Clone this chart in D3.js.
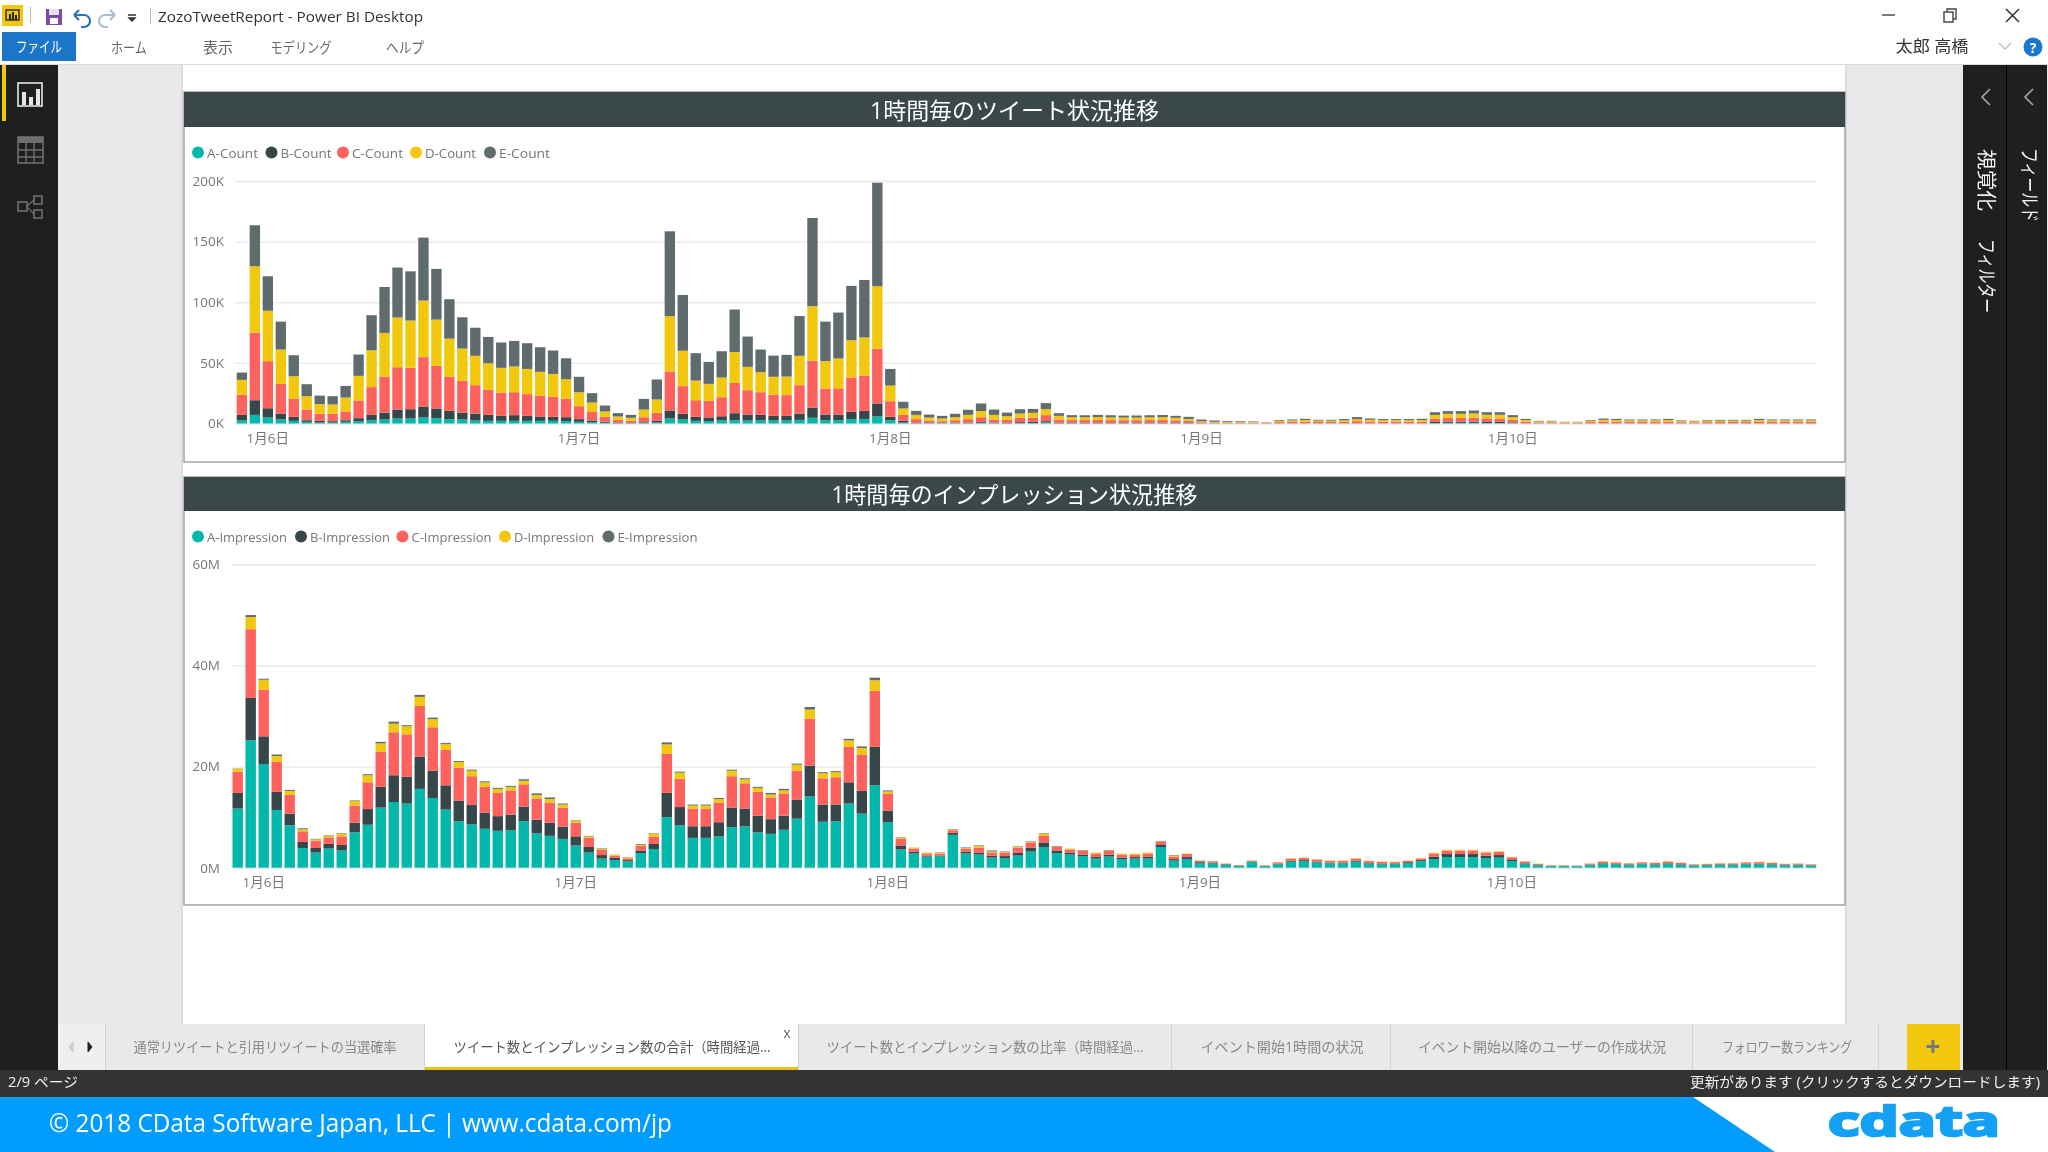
<!DOCTYPE html>
<html lang="ja"><head><meta charset="utf-8">
<script src="https://cdn.jsdelivr.net/npm/d3@7"></script>
<style>
html,body{margin:0;padding:0;background:#fff;overflow:hidden}
svg{display:block;filter:blur(.45px)}
text{font-family:"Open Sans","Noto Sans CJK JP",sans-serif}
</style></head><body><div id="chart"></div>
<script>
// ---------- data ----------
const dayLabels=["1月6日","1月7日","1月8日","1月9日","1月10日"];
const dayTickIndex=[2,26,50,74,98];
const countTicks=[0,50,100,150,200];
const impressionTicks=[0,20,40,60];
const countNames=["A-Count","B-Count","C-Count","D-Count","E-Count"];
const impressionNames=["A-Impression","B-Impression","C-Impression","D-Impression","E-Impression"];
const seriesColors=["#01B8AA","#374649","#FD625E","#F2C80F","#5F6B6D"];

const cntA=[2.7,7.1,5,3.3,2.2,1.4,.8,.8,1.4,1.9,
2.7,3.3,4.1,4.1,5,4.4,3.6,3.3,2.5,2.2,
2.2,2.2,2.2,2.2,2.2,1.9,1.4,1.1,.6,.3,
.3,.6,.8,4.1,3.3,2.2,1.9,2.5,2.7,2.5,
2.5,2.5,2.5,3,4.7,2.7,2.7,3.6,3.8,5.8,
2.7,.8,.3,.3,.3,.3,.3,.4,.3,.2,
.3,.4,.8,.2,.2,.2,.2,.2,.2,.2,
.2,.2,.2,.2,.05,.05,.05,.05,.05,.05,
.05,.05,.05,.05,.05,.05,.05,.05,.05,.05,
.05,.05,.4,.5,.5,.5,.4,.4,.3,.05,
.05,.05,.05,.05,.05,.05,.05,.05,.05,.05,
.05,.05,.05,.05,.05,.05,.05,.05,.05,.05,
.05,.05];
const cntB=[4.4,12.1,7.6,4.9,3.3,1.3,1.4,1.1,1.3,2.5,
4.4,5.7,7.4,7.7,9,8,6.8,5.7,5.7,4.9,
4.1,4.7,4.1,3.6,3.3,3.3,2.2,1.4,.8,.5,
.2,.5,1.4,6.6,4.7,3.3,3.1,3.5,5.8,4.9,
4.6,3.8,3.8,5.2,8.5,4.7,4.7,6,6.6,10.7,
2.8,1.4,.2,.2,.2,.3,.5,.7,.5,.3,
.8,1,1.1,.3,.3,.3,.3,.3,.3,.3,
.3,.3,.3,.3,.1,.1,.1,.1,.1,.1,
.1,.1,.1,.1,.1,.1,.1,.1,.1,.1,
.1,.1,.9,1,1,1,.9,.9,.6,.1,
.1,.1,.1,.1,.1,.1,.1,.1,.1,.1,
.1,.1,.1,.1,.1,.1,.1,.1,.1,.1,
.1,.1];
const cntC=[16.5,55.8,38.8,24.5,14.8,8.8,5.8,6.1,7.2,14.6,
22.9,29.7,34.9,34.1,40.7,35.1,28.3,26.2,23.4,20.6,
19.2,18.9,17.9,17,16.5,15.1,10.7,7.1,4.1,2.2,
1.7,4.1,6.6,32.2,22.8,13.7,13.7,15.7,25,20.1,
18.7,17.3,17.1,23.4,38.7,21.4,21.6,28.3,29.2,45.3,
12.9,4.9,3.1,2,1.4,2.1,2.8,4.1,2.5,2.5,
3.6,3.5,5,2.8,2.3,2.3,2.4,2.3,2.2,2.2,
2.3,2.3,2.1,1.9,.9,.6,.6,.6,.5,.4,
1,1.2,1.4,1.1,1.1,1.3,1.8,1.5,1.3,1.3,
1.3,1.3,2.8,3.2,3.2,3.3,2.9,2.9,2.2,1.4,
.8,.8,.5,.5,1,1.5,1.4,1.2,1.2,1.2,
1.4,.9,.8,1,1.1,1.1,1.1,1.4,1.2,1.2,
1.2,1.2];
const cntD=[12.4,54.7,41.6,28.3,18.7,11,8,7.7,11.5,20.3,
30.4,36,41,39,46.7,38.2,31.3,26.6,24.2,22,
20.4,21.2,20.8,19.8,18.9,16.2,11.5,7.7,4.4,2.8,
2.5,6.3,11,45.6,29.2,16.2,14,16.2,25.5,19.2,
16.5,14.9,15.3,24.2,44.8,22.6,24.6,30.8,31.4,51.4,
12.9,5.3,3.5,2.4,2.2,2.5,3.5,5,3.8,3,
3.5,3.9,4.9,3,2.4,2.3,2.4,2.3,2.2,2.2,
2.3,2.4,2.1,1.4,.8,.6,.5,.6,.5,.4,
1,1.2,1.3,1.1,1.1,1.2,1.6,1.4,1.3,1.3,
1.3,1.4,3,3.3,3.3,3.5,3,3,2.2,1.3,
.8,.8,.5,.5,1,1.4,1.3,1.2,1.2,1.2,
1.3,.9,.8,1,1.1,1.1,1.1,1.3,1.2,1.2,
1.2,1.2];
const cntE=[6,33.8,28.4,23,17.3,9.9,7,6.8,9.6,17.6,
28.9,37.9,41.2,40.6,51.9,41.8,32.5,25.8,23.2,21.7,
20.9,21.1,21.2,20.3,19.3,17.3,12.7,7.7,4.9,2.7,
2.4,8.8,16.5,70,46,22.6,18.1,21.7,35,25,
18.7,17.5,17.9,32.9,72.8,32.6,37.9,44.8,47.4,85.4,
13.7,5.5,3.3,2.5,2.2,2.8,4.2,6.3,4.4,3,
3.6,3.2,5,2.2,1.7,1.7,1.8,1.7,1.6,1.7,
1.7,1.8,1.6,1.7,1.4,1.1,.7,.6,.5,.2,
.6,.8,1,.7,.7,1,1.7,1.1,.9,.9,
.9,1,2.2,2.2,2.2,2.4,2.1,2.1,1.6,.95,
.45,.45,.25,.25,.55,1.05,.95,.75,.75,.75,
.95,.55,.45,.55,.65,.65,.65,.95,.75,.75,
.75,.75];

const impA=[11.7,25.2,20.5,11.4,8.4,3.9,3,3.8,3.4,7,
8.5,11.9,13,12.7,15.6,13.8,11.5,9.2,8.6,7.7,
7.3,7.4,9.2,6.8,6.3,5.7,4.4,3,1.8,1.5,
1.25,2.9,3.7,10,8.4,5.9,5.9,6.2,8,8.2,
7,6.7,7.5,9.7,14.1,9.1,9.2,12.7,10.7,16.3,
9,3.6,2.8,2.2,2.3,6.5,2.8,2.6,2,1.9,
2.4,3.2,4.1,2.9,2.6,2.3,1.8,2.2,1.7,1.8,
1.8,4.1,1.4,1.7,.9,.85,.6,.3,1.2,.3,
.7,1.2,1.3,1.05,.9,.9,1.2,.85,.75,.75,
.95,1.3,1.7,2.1,2.1,2.1,1.9,2,1.3,.8,
.5,.3,.3,.3,.55,.8,.7,.55,.7,.6,
.8,.6,.45,.5,.55,.55,.7,.7,.6,.5,
.5,.45];
const impB=[3.1,8.4,5.5,3.6,2.3,1.2,.9,.9,1.1,1.9,
3.1,4.1,5.3,5.3,6.4,5.4,4.8,4.1,3.8,3.2,
2.9,3.1,2.9,2.7,2.6,2.4,1.8,1.1,.7,.5,
.25,.5,1,4.8,3.6,2.3,2.3,2.8,3.9,3.5,
3.3,2.9,2.8,3.8,6.1,3.4,3.3,4.2,4.5,7.6,
2.3,.8,.4,.2,.1,.4,.4,.4,.4,.4,
.6,.8,.9,.5,.4,.3,.4,.4,.3,.3,
.4,.4,.3,.4,.2,.15,.1,.1,.05,.05,
.1,.2,.2,.15,.1,.1,.2,.1,.1,.1,
.15,.2,.5,.6,.6,.6,.5,.5,.35,.1,
.05,.05,.05,.05,.05,.1,.1,.1,.1,.1,
.1,.1,.05,.1,.1,.1,.1,.1,.1,.1,
.1,.05];
const impC=[4.2,13.6,9.2,6,3.7,2.1,1.4,1.3,1.7,3.4,
5.3,7,8.5,8.4,10,8.6,7,6.5,5.7,5.1,
4.6,4.8,4.4,4.2,4,3.8,2.7,1.8,1,.4,
.35,.9,1.4,7.7,5.6,3.5,3.5,3.9,6.2,5,
4.7,4.3,4.4,5.7,9.3,5.2,5.4,7,7.2,11.1,
3.3,1.3,.6,.4,.4,.5,.6,1,.6,.7,
1,1,1.3,.7,.6,.7,.6,.7,.6,.5,
.6,.6,.5,.6,.2,.2,.1,.1,.15,.1,
.25,.4,.4,.4,.35,.35,.4,.35,.3,.25,
.25,.3,.6,.7,.7,.7,.6,.6,.4,.3,
.2,.1,.1,.05,.2,.3,.25,.2,.25,.25,
.3,.25,.15,.15,.2,.2,.25,.3,.25,.15,
.2,.15];
const impD=[.6,2.4,2,1.1,.8,.4,.3,.3,.5,.9,
1.4,1.6,1.7,1.6,1.8,1.6,1.2,1.1,1.1,.9,
.8,.7,.7,.7,.7,.6,.4,.3,.2,.2,
.15,.25,.6,1.9,1.2,.6,.6,.7,1.1,.8,
.8,.6,.6,1.2,1.8,1,1,1.3,1.3,2.1,
.5,.2,.2,.2,.1,.1,.1,.3,.2,.1,
.1,.1,.4,.1,.2,.1,.2,.1,.2,.2,
.2,.1,.2,.1,.1,.05,.05,.05,.05,.03,
.05,.07,.08,.08,.08,.08,.08,.08,.08,.08,
.08,.08,.15,.15,.15,.15,.15,.15,.1,.08,
.05,.03,.03,.03,.05,.08,.07,.05,.05,.05,
.08,.05,.03,.03,.05,.05,.05,.08,.05,.03,
.05,.03];
const impE=[.05,.4,.2,.3,.2,.2,.1,.1,.1,.1,
.2,.3,.4,.2,.4,.3,.2,.2,.2,.2,
.2,.2,.3,.3,.3,.2,.1,.1,.1,0,
.05,.15,.1,.4,.2,.2,.2,.2,.2,.2,
.2,.3,.3,.2,.5,.2,.2,.3,.3,.5,
.2,.1,0,0,.1,.1,.1,.1,.2,.1,
.1,.1,.1,.1,0,.1,0,.1,0,0,
0,.1,.1,0,.05,.05,0,0,0,0,
0,0,0,0,0,0,0,0,0,0,
0,0,0,0,0,0,0,0,0,0,
0,0,0,0,0,0,0,0,0,0,
0,0,0,0,0,0,0,0,0,0,
0,0];

const menuItems=[["ホーム",129,36],["表示",218,30],["モデリング",301,61],["ヘルプ",405,38]];
const tabs=[["通常リツイートと引用リツイートの当選確率",265,263],["ツイート数とインプレッション数の合計（時間経過...",612,317],["ツイート数とインプレッション数の比率（時間経過...",985,317],["イベント開始1時間の状況",1282,163],["イベント開始以降のユーザーの作成状況",1542,248],["フォロワー数ランキング",1787,130]];
const tabDividers=[105,424,798,1171,1390,1692,1878];

// ---------- helpers ----------
const W=2048,H=1152;
const svg=d3.select("#chart").append("svg").attr("width",W).attr("height",H).attr("viewBox",[0,0,W,H]);
const rect=(x,y,w,h,f,p=svg)=>p.append("rect").attr("x",x).attr("y",y).attr("width",w).attr("height",h).attr("fill",f);
function label(s,x,y,size,fill,anchor="start",len=null,p=svg){
  const t=p.append("text").attr("x",x).attr("y",y).attr("font-size",size).attr("fill",fill)
    .attr("text-anchor",anchor).attr("dominant-baseline","central").text(s);
  if(len)t.attr("textLength",len).attr("lengthAdjust","spacingAndGlyphs");
  return t;
}
const path=(d,stroke,sw=1.6,fill="none")=>svg.append("path").attr("d",d).attr("stroke",stroke).attr("stroke-width",sw).attr("fill",fill);

// ---------- application chrome ----------
rect(0,0,W,H,"#fff");
rect(0,64,W,1006,"#e9e9ec");
rect(0,64,W,1,"#dcdcdc");
rect(183,65,1662,960,"#fff");
rect(181,65,2,960,"#dcdcdf");
rect(1845,65,2,960,"#dcdcdf");

// title bar
rect(2,5,21,21,"#f2c80f");
rect(6,10,13,10,"none").attr("stroke","#333").attr("stroke-width",1.5);
rect(9,14,2,6,"#222");rect(12,12,2,8,"#222");rect(15,15,2,5,"#222");
rect(30,7,1,16,"#bbb");
rect(46,9,16,16,"#7a4fa3");rect(49,9,10,6,"#e8e0f0");rect(50,18,8,6,"#fff");
path("M74 15 h10 a6 6 0 0 1 0 12 h-3 M74 15 l5 -5 M74 15 l5 5","#2f72b8",2.2);
path("M115 15 h-10 a6 6 0 0 0 0 12 h3 M115 15 l-5 -5 M115 15 l-5 5","#a9bfd6",2.2);
path("M128 15 h8 M129 18 h6 l-3 3 z","#333",1.4,"#333");
rect(150,8,1,16,"#bbb");
label("ZozoTweetReport - Power BI Desktop",158,15.5,15,"#333","start",265);
path("M1882 15 h13","#444",1.4);
rect(1944,12,9,10,"#fff").attr("stroke","#444").attr("stroke-width",1.4);
path("M1947 12 v-3 h9 v10 h-3","#444",1.4);
path("M2006 9 l13 13 M2019 9 l-13 13","#333",1.5);

// menu
rect(2,32,74,29,"#1b75c8");
label("ファイル",39,46,15,"#fff","middle",46);
menuItems.forEach(m=>label(m[0],m[1],47,14.5,"#666","middle",m[2]));
label("太郎 高橋",1932,46,16,"#333","middle",73);
path("M1999 43 l6 6 l6 -6","#bbb",1.3);
svg.append("circle").attr("cx",2033).attr("cy",47).attr("r",9.5).attr("fill","#1a78d2");
label("?",2033,47,14,"#fff","middle").attr("font-weight",700);

// left rail
rect(0,65,58,1005,"#1f1f1f");
rect(2,65,4,56,"#f2c80f");
rect(18,83,24,23,"none").attr("stroke","#e6e6e6").attr("stroke-width",1.6);
rect(22,92,4,13,"#e6e6e6");rect(29,97,4,8,"#e6e6e6");rect(36,89,4,16,"#e6e6e6");
rect(18,137,25,26,"none").attr("stroke","#6f6f6f").attr("stroke-width",1.6);
rect(18,137,25,6,"#6f6f6f");
path("M18 150 h25 M18 157 h25 M26 143 v20 M34 143 v20","#6f6f6f",1.4);
rect(18,202,9,9,"none").attr("stroke","#6f6f6f").attr("stroke-width",1.6);
rect(34,196,8,8,"none").attr("stroke","#6f6f6f").attr("stroke-width",1.6);
rect(34,210,8,8,"none").attr("stroke","#6f6f6f").attr("stroke-width",1.6);
path("M27 206 l7 -6 M27 207 l7 7","#6f6f6f",1.3);

// right panes
rect(1963,65,43,1005,"#1f1f1f");
rect(2006,65,41,1005,"#1f1f1f");
rect(2006,65,1,1005,"#000");
path("M1990 89 l-8 8 l8 8","#aaa",1.6);
path("M2033 89 l-8 8 l8 8","#aaa",1.6);
label("視覚化",0,0,20,"#f2f2f2","start",62).attr("transform","translate(1986,149) rotate(90)");
label("フィルター",0,0,20,"#f2f2f2","start",74).attr("transform","translate(1986,239) rotate(90)");
label("フィールド",0,0,20,"#f2f2f2","start",74).attr("transform","translate(2029,148) rotate(90)");

// ---------- charts ----------
function drawChart(c){
  const g=svg.append("g");
  rect(c.box[0],c.box[1],c.box[2]-c.box[0],c.box[3]-c.box[1],"#fff",g).attr("stroke","#a8a8a8").attr("stroke-width",1.6);
  rect(c.box[0],c.box[1],c.box[2]-c.box[0],c.head,"#3a4849",g);
  label(c.title,(c.box[0]+c.box[2])/2,c.box[1]+c.head/2,23,"#fff","middle",c.titleW,g);

  // legend
  c.names.forEach((n,i)=>{
    g.append("circle").attr("cx",c.legendX[i]).attr("cy",c.legendY).attr("r",6).attr("fill",seriesColors[i]);
    label(n,c.legendX[i]+9,c.legendY,13.5,"#777","start",c.legendW,g);
  });

  const rows=c.series[0].map((_,i)=>{const r={hour:i};c.names.forEach((n,k)=>r[n]=c.series[k][i]);return r;});
  const x=d3.scaleBand().domain(rows.map(r=>r.hour)).range(c.xRange).paddingInner(.2).paddingOuter(.1);
  const y=d3.scaleLinear().domain([0,c.ticks[c.ticks.length-1]]).range(c.yRange);

  const yAxis=d3.axisLeft(y).tickValues(c.ticks).tickFormat(d=>d+c.unit).tickSize(-(c.gridR-c.gridL)).tickPadding(c.gridL-c.tickRight);
  const ya=g.append("g").attr("transform",`translate(${c.gridL},0)`).call(yAxis);
  ya.select(".domain").remove();
  ya.selectAll("line").attr("stroke","#e9e9ee").attr("stroke-width",1.4);
  ya.selectAll("text").attr("fill","#777").attr("font-size",13.5);

  const stack=d3.stack().keys(c.names)(rows);
  g.selectAll("g.s").data(stack).join("g").attr("class","s").attr("fill",(d,i)=>seriesColors[i])
    .selectAll("rect").data(d=>d).join("rect")
    .attr("x",d=>x(d.data.hour)).attr("width",x.bandwidth())
    .attr("y",d=>y(d[1])).attr("height",d=>Math.max(0,y(d[0])-y(d[1])));

  const xAxis=d3.axisBottom(x).tickValues(dayTickIndex).tickFormat(d=>dayLabels[dayTickIndex.indexOf(d)]).tickSize(0).tickPadding(c.xPad);
  const xa=g.append("g").attr("transform",`translate(0,${c.yRange[0]})`).call(xAxis);
  xa.select(".domain").remove();
  xa.selectAll("text").attr("fill","#777").attr("font-size",13.5);
}
drawChart({box:[184,92,1845,462],head:35,title:"1時間毎のツイート状況推移",titleW:289,
  names:countNames,series:[cntA,cntB,cntC,cntD,cntE],ticks:countTicks,unit:"K",
  legendX:[198,271.5,343,416,490],legendY:152.5,legendW:51,
  xRange:[235.4,1817.5],yRange:[423.5,181],gridL:235,gridR:1816,tickRight:224,xPad:10});
drawChart({box:[184,477,1845,905],head:34,title:"1時間毎のインプレッション状況推移",titleW:366,
  names:impressionNames,series:[impA,impB,impC,impD,impE],ticks:impressionTicks,unit:"M",
  legendX:[198,301,402.5,505,608.5],legendY:536.5,legendW:80,
  xRange:[231.2,1817.5],yRange:[867.7,564.5],gridL:233,gridR:1816,tickRight:220,xPad:10});

// ---------- tabs and status ----------
rect(58,1024,1905,46,"#e9e9ec");
rect(58,1024,47,46,"#efefef");
rect(424,1024,374,46,"#fff");
rect(424,1067,374,3,"#e8c31a");
tabDividers.forEach(v=>rect(v,1024,1,46,"#d2d2d2"));
path("M73 1042 l-4 5 l4 5 z","#ccc",1,"#ccc");
path("M88 1042 l4 5 l-4 5 z","#222",1,"#222");
tabs.forEach((t,i)=>label(t[0],t[1],1046,14,i===1?"#555":"#888","middle",t[2]));
label("x",787,1032,14,"#666","middle");
rect(1907,1024,53,46,"#f2c80f");
label("+",1933,1046,26,"#777","middle").attr("font-weight",700);

rect(0,1070,W,27,"#333");
label("2/9 ページ",8,1081,14,"#f2f2f2","start",70);
label("更新があります (クリックするとダウンロードします)",1690,1081,14,"#f2f2f2","start",350);

// footer
rect(0,1097,W,55,"#fff");
svg.append("path").attr("d","M0 1097 H1693 L1775 1152 H0 Z").attr("fill","#009cff");
label("© 2018 CData Software Japan, LLC |  www.cdata.com/jp",49,1122,26,"#fff","start",623).attr("font-family","Lato");
label("cdata",1914,1119,42,"#14a0f5","middle",172).attr("stroke","#14a0f5").attr("stroke-width",2.5).attr("font-weight",700).attr("font-family","Lato");
</script></body></html>
